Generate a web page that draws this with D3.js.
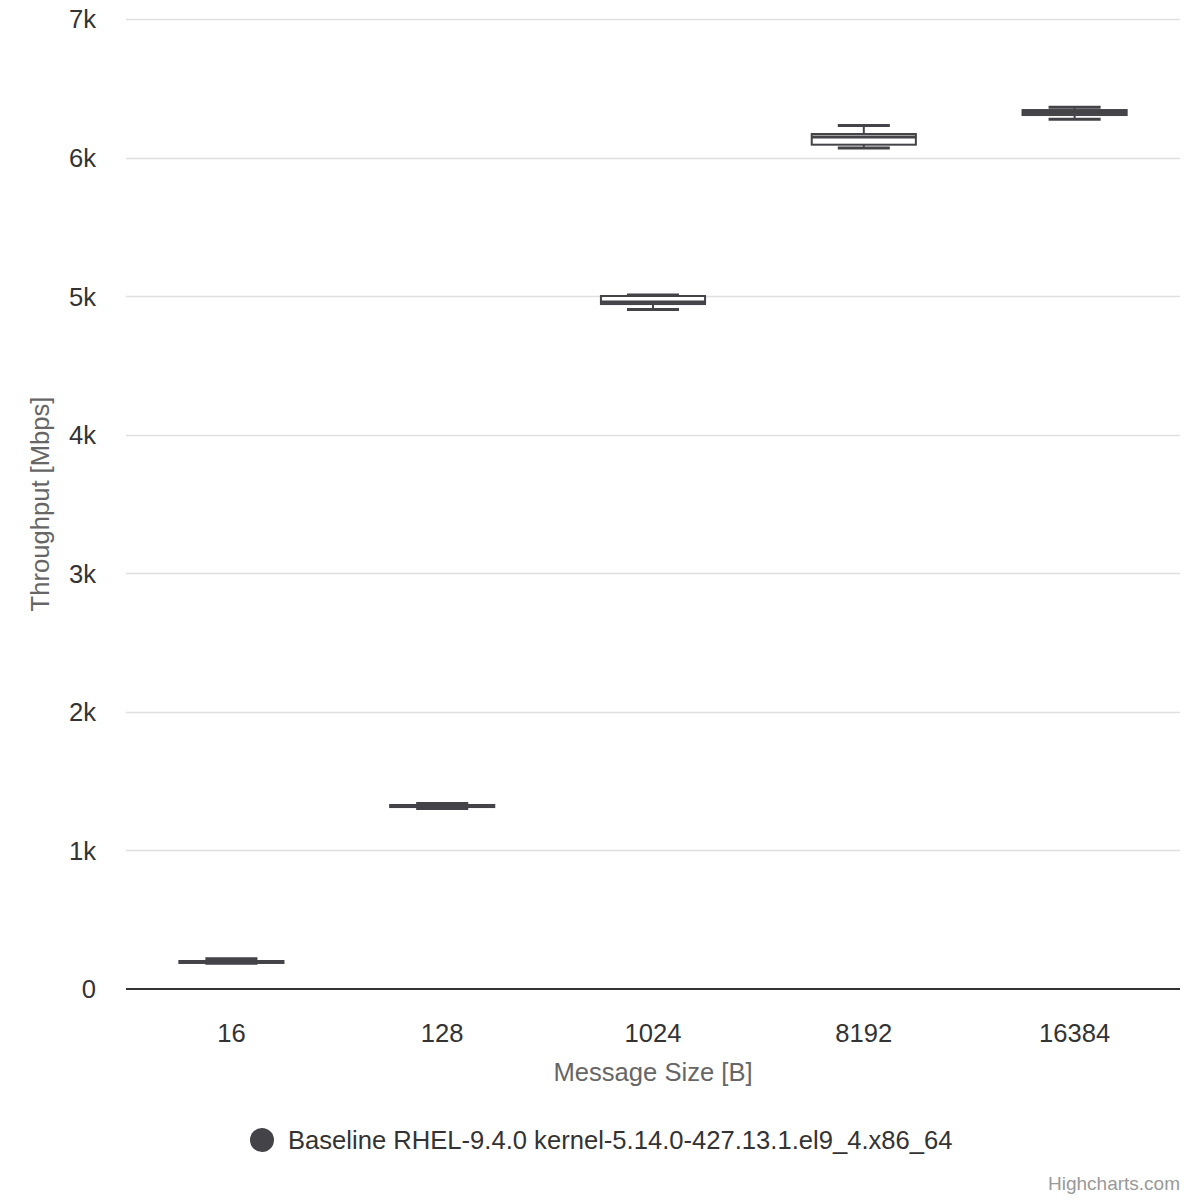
<!DOCTYPE html>
<html>
<head>
<meta charset="utf-8">
<script src="https://cdn.jsdelivr.net/npm/d3@7/dist/d3.min.js"></script>
<style>
  html, body { margin: 0; padding: 0; background: #fff; }
  svg { display: block; font-family: "Liberation Sans", Arial, sans-serif; }
</style>
</head>
<body>
<svg id="chart" width="1200" height="1200"></svg>
<script>
// ---- data ----
const categories = ["16", "128", "1024", "8192", "16384"];
const lowValues    = [186, 1302, 4903, 6069, 6276];
const q1Values     = [188, 1313, 4943, 6093, 6307];
const medianValues = [195, 1320, 4958, 6148, 6325];
const q3Values     = [202, 1328, 5001, 6170, 6343];
const highValues   = [218, 1339, 5008, 6231, 6363];
const yTicks = [0, 1000, 2000, 3000, 4000, 5000, 6000, 7000];
const seriesName = "Baseline RHEL-9.4.0 kernel-5.14.0-427.13.1.el9_4.x86_64";
const xTitle = "Message Size [B]";
const yTitle = "Throughput [Mbps]";

const color = "#434348";
const FS = 25.6;
const svg = d3.select("#chart");
const plot = { left: 126, right: 1180, top: 19, bottom: 989 };

const x = d3.scaleBand().domain(categories).range([plot.left, plot.right]).padding(0);
const y = d3.scaleLinear().domain([0, 7000]).range([plot.bottom, plot.top]);

// gridlines
svg.append("g").selectAll("line").data(yTicks.filter(d => d > 0)).join("line")
  .attr("x1", plot.left).attr("x2", plot.right)
  .attr("y1", d => Math.round(y(d)) + 0.5).attr("y2", d => Math.round(y(d)) + 0.5)
  .attr("stroke", "#e0e0e0").attr("stroke-width", 1.3);

// y axis labels
const yAxis = d3.axisLeft(y).tickValues(yTicks).tickSize(0).tickPadding(30)
  .tickFormat(d => d === 0 ? "0" : (d / 1000) + "k");
const yg = svg.append("g").attr("transform", `translate(${plot.left},0)`).call(yAxis);
yg.select(".domain").remove();
yg.selectAll("text").attr("font-size", FS).attr("fill", "#333333")
  .attr("font-family", "Liberation Sans, Arial, sans-serif").attr("dy", "0.35em");

// x axis
const xAxis = d3.axisBottom(x).tickSize(0).tickPadding(35);
const xg = svg.append("g").attr("transform", `translate(0,${plot.bottom})`).call(xAxis);
xg.select(".domain").attr("stroke", "#333333").attr("stroke-width", 2)
  .attr("d", `M${plot.left},0H${plot.right}`);
xg.selectAll("text").attr("font-size", FS).attr("fill", "#333333")
  .attr("font-family", "Liberation Sans, Arial, sans-serif").attr("dy", "0.35em").attr("y", 44);

// axis titles
svg.append("text").attr("x", (plot.left + plot.right) / 2).attr("y", 1081)
  .attr("text-anchor", "middle").attr("font-size", FS).attr("fill", "#666666").text(xTitle);
svg.append("text")
  .attr("transform", `translate(49,${(plot.top + plot.bottom) / 2}) rotate(-90)`)
  .attr("text-anchor", "middle").attr("font-size", FS).attr("fill", "#666666").text(yTitle);

// boxes
const data = categories.map((c, i) => ({
  c, low: lowValues[i], q1: q1Values[i], median: medianValues[i], q3: q3Values[i], high: highValues[i]
}));
const boxW = x.bandwidth() * 0.494;
const whiskW = boxW / 2;
const g = svg.append("g");
const pts = g.selectAll("g.pt").data(data).join("g").attr("class", "pt");
const cx = d => x(d.c) + x.bandwidth() / 2;

pts.append("line").attr("x1", cx).attr("x2", cx)
  .attr("y1", d => y(d.high)).attr("y2", d => y(d.q3))
  .attr("stroke", color).attr("stroke-width", 2);
pts.append("line").attr("x1", cx).attr("x2", cx)
  .attr("y1", d => y(d.q1)).attr("y2", d => y(d.low))
  .attr("stroke", color).attr("stroke-width", 2);
pts.append("rect")
  .attr("x", d => cx(d) - boxW / 2).attr("width", boxW)
  .attr("y", d => y(d.q3)).attr("height", d => y(d.q1) - y(d.q3))
  .attr("fill", "#ffffff").attr("stroke", color).attr("stroke-width", 2);
pts.append("line").attr("x1", d => cx(d) - whiskW / 2).attr("x2", d => cx(d) + whiskW / 2)
  .attr("y1", d => y(d.high)).attr("y2", d => y(d.high))
  .attr("stroke", color).attr("stroke-width", 3);
pts.append("line").attr("x1", d => cx(d) - whiskW / 2).attr("x2", d => cx(d) + whiskW / 2)
  .attr("y1", d => y(d.low)).attr("y2", d => y(d.low))
  .attr("stroke", color).attr("stroke-width", 3);
pts.append("line").attr("x1", d => cx(d) - boxW / 2).attr("x2", d => cx(d) + boxW / 2)
  .attr("y1", d => y(d.median)).attr("y2", d => y(d.median))
  .attr("stroke", color).attr("stroke-width", 3);

// legend
const legend = svg.append("g");
legend.append("circle").attr("cx", 262).attr("cy", 1140).attr("r", 12).attr("fill", color);
legend.append("text").attr("x", 288).attr("y", 1149).attr("font-size", FS)
  .attr("fill", "#333333").text(seriesName);

// credits
svg.append("text").attr("x", 1180).attr("y", 1190).attr("text-anchor", "end")
  .attr("font-size", 19).attr("fill", "#999999").text("Highcharts.com");
</script>
</body>
</html>
